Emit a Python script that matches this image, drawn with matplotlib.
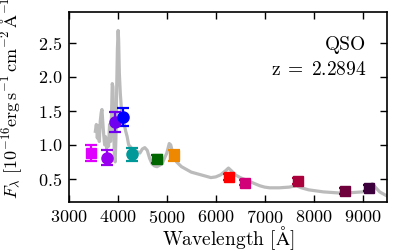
import numpy as np
import matplotlib
matplotlib.use("Agg")
import matplotlib.pyplot as plt

plt.rcParams["font.family"] = "serif"
plt.rcParams["font.serif"] = ["cmr10"]
plt.rcParams["mathtext.fontset"] = "cm"
plt.rcParams["axes.unicode_minus"] = False
plt.rcParams["axes.formatter.use_mathtext"] = True

# spectrum (wavelength in A, flux in 1e-16 erg/s/cm2/A)
spec_wave = [3540, 3560, 3580, 3600, 3620, 3640, 3660, 3675, 3690, 3710,
             3730, 3750, 3770, 3790, 3810, 3830, 3850, 3870, 3885, 3900,
             3915, 3930, 3945, 3960, 3975, 3990, 4005, 4015, 4030, 4050,
             4070, 4100, 4130, 4160, 4190, 4220, 4260, 4300, 4350, 4400,
             4450, 4500, 4550, 4600, 4650, 4700, 4750, 4800, 4850, 4900,
             4950, 5000, 5050, 5080, 5120, 5160, 5200, 5300, 5400, 5500,
             5600, 5700, 5800, 5900, 6000, 6100, 6200, 6260, 6320, 6400,
             6500, 6600, 6700, 6800, 6900, 7000, 7100, 7300, 7500, 7650,
             7750, 7900, 8000, 8200, 8400, 8600, 8800, 9000, 9100, 9200,
             9260, 9350, 9450, 9500]
spec_flux = [1.20, 1.30, 1.10, 1.28, 1.05, 1.35, 1.48, 1.52, 1.35, 1.15,
             1.00, 1.12, 0.95, 1.05, 0.98, 1.30, 1.05, 1.45, 1.90, 1.85,
             1.20, 0.80, 0.75, 1.10, 1.80, 2.40, 2.68, 2.55, 2.05, 1.75,
             1.55, 1.40, 1.30, 1.20, 1.12, 1.00, 0.97, 0.93, 0.92, 0.90,
             0.88, 0.94, 0.96, 0.92, 0.80, 0.72, 0.69, 0.68, 0.70, 0.72,
             0.80, 0.88, 1.02, 1.00, 0.88, 0.80, 0.75, 0.68, 0.64, 0.60,
             0.58, 0.56, 0.54, 0.52, 0.53, 0.56, 0.62, 0.66, 0.62, 0.56,
             0.52, 0.49, 0.46, 0.43, 0.40, 0.38, 0.37, 0.37, 0.38, 0.40,
             0.37, 0.34, 0.33, 0.31, 0.30, 0.29, 0.30, 0.31, 0.35, 0.43,
             0.38, 0.31, 0.27, 0.25]

# photometry
phot_wave = [3460, 3770, 3935, 4105, 4285, 4800, 5150, 6265, 6590, 7685, 8640, 9135]
phot_flux = [0.88, 0.81, 1.34, 1.41, 0.86, 0.79, 0.85, 0.535, 0.445, 0.47, 0.32, 0.37]
phot_err = [0.12, 0.11, 0.145, 0.13, 0.10, 0.06, 0.08, 0.045, 0.04, 0.045, 0.04, 0.04]
phot_marker = ["s", "o", "o", "o", "o", "s", "s", "s", "s", "s", "s", "s"]
phot_color = ["#e000ff", "#9a00f0", "#7000f0", "#0000ff", "#009999", "#006600",
              "#ee8800", "#ff0000", "#d20078", "#aa003c", "#6e003c", "#3c003c"]

fig = plt.figure(figsize=(4.08, 2.52), dpi=100)
ax = fig.add_axes([0.169, 0.198, 0.7795, 0.754])

ax.plot(spec_wave, spec_flux, color="#bbbbbb", lw=2.3, zorder=1)

for w, f, e, m, c in zip(phot_wave, phot_flux, phot_err, phot_marker, phot_color):
    ax.errorbar(w, f, yerr=e, fmt=m, color=c, mec=c, ms=8 if m == "o" else 7,
                elinewidth=1.6, capsize=4.5, capthick=1.6, zorder=3)

ax.set_xlim(3000, 9500)
ax.set_ylim(0.16, 2.95)
ax.set_xticks([3000, 4000, 5000, 6000, 7000, 8000, 9000])
ax.set_yticks([0.5, 1.0, 1.5, 2.0, 2.5])
ax.tick_params(direction="in", top=True, right=True, length=5, width=1,
               labelsize=13, pad=5)
for s in ax.spines.values():
    s.set_linewidth(1.2)

ax.set_xlabel(r"Wavelength [$\mathrm{\AA}$]", fontsize=14, labelpad=-1)
ax.set_ylabel(r"$F_\lambda\ [10^{-16}\mathrm{erg\,s^{-1}\,cm^{-2}\,\AA^{-1}}]$",
              fontsize=13)
ax.yaxis.set_label_coords(-0.14, 0.56)

ax.text(0.934, 0.826, "QSO", transform=ax.transAxes, ha="right", va="center",
        fontsize=14)
ax.text(0.934, 0.695, r"$\mathrm{z\;=\;2.2894}$", transform=ax.transAxes,
        ha="right", va="center", fontsize=14)

fig.savefig("out.png", dpi=100)
